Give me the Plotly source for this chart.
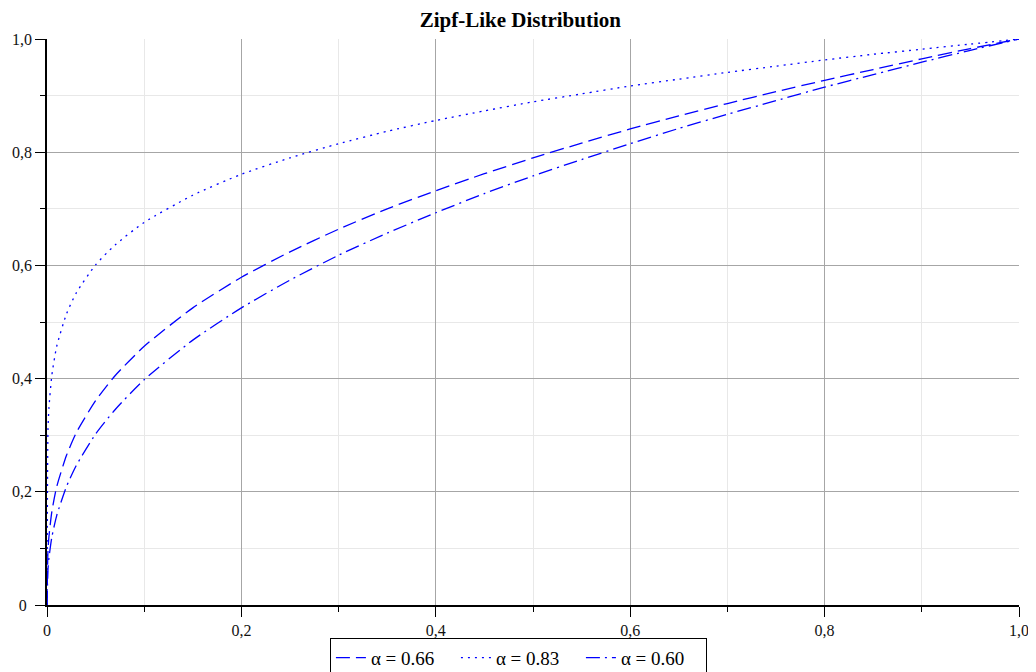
import plotly.graph_objects as go

# Fraction of objects (x) and cumulative fraction of requests (y)
x_vals = [0, 0.001, 0.002, 0.005, 0.01, 0.02, 0.03, 0.05, 0.07, 0.1, 0.15, 0.2, 0.25,
          0.3, 0.35, 0.4, 0.45, 0.5, 0.55, 0.6, 0.65, 0.7, 0.75, 0.8, 0.85, 0.9, 0.95, 1.0]

y_a066 = [0, 0.096, 0.121, 0.165, 0.209, 0.264, 0.304, 0.361, 0.405, 0.457, 0.525, 0.579, 0.624,
          0.664, 0.700, 0.732, 0.762, 0.790, 0.816, 0.841, 0.864, 0.886, 0.907, 0.927, 0.946, 0.965, 0.983, 1.0]

y_a083 = [0, 0.309, 0.348, 0.406, 0.457, 0.514, 0.551, 0.601, 0.636, 0.676, 0.724, 0.761, 0.790,
          0.815, 0.837, 0.856, 0.873, 0.889, 0.903, 0.917, 0.929, 0.941, 0.952, 0.963, 0.973, 0.982, 0.991, 1.0]

y_a060 = [0, 0.063, 0.083, 0.120, 0.158, 0.209, 0.246, 0.302, 0.345, 0.398, 0.468, 0.525, 0.574,
          0.618, 0.657, 0.693, 0.727, 0.758, 0.787, 0.815, 0.842, 0.867, 0.891, 0.915, 0.937, 0.959, 0.980, 1.0]

series_names = ["α = 0.66", "α = 0.83", "α = 0.60"]
tick_vals = [0, 0.2, 0.4, 0.6, 0.8, 1.0]
tick_text = ["0", "0,2", "0,4", "0,6", "0,8", "1,0"]

FONT = "Liberation Serif"
BLUE = "#0000ff"

fig = go.Figure()
for name, ys, dash in [
    (series_names[0], y_a066, "14px,6px"),
    (series_names[1], y_a083, "2px,5px"),
    (series_names[2], y_a060, "14px,5px,2px,5px"),
]:
    fig.add_trace(go.Scatter(x=x_vals, y=ys, mode="lines", name=name,
                             line=dict(color=BLUE, width=1.3, dash=dash, shape="spline", smoothing=0.6)))

axis_common = dict(
    range=[0, 1],
    tickvals=tick_vals,
    ticks="outside",
    ticklen=10,
    tickcolor="black",
    tickwidth=1,
    showline=True,
    linecolor="black",
    linewidth=1.5,
    showgrid=True,
    gridcolor="#a6a6a6",
    gridwidth=1,
    zeroline=False,
    tickfont=dict(family=FONT, size=16, color="#111111"),
    minor=dict(dtick=0.1, tick0=0, ticks="outside", ticklen=5, tickcolor="black",
               showgrid=True, gridcolor="#e8e8e8", gridwidth=1),
)

# page has an 8px body margin, so figure is 8px smaller and margins shifted
fig.update_layout(
    width=1028,
    height=664,
    margin=dict(l=39, r=17, t=31, b=67, autoexpand=False),
    paper_bgcolor="white",
    plot_bgcolor="white",
    title=dict(text="<b>Zipf-Like Distribution</b>", x=0.487, xref="paper", xanchor="center",
               y=0.982, yref="container", yanchor="middle",
               font=dict(family=FONT, size=21, color="black")),
    xaxis=dict(**axis_common, ticktext=tick_text),
    yaxis=dict(**axis_common, ticktext=[tick_text[0] + "\u2004"] + tick_text[1:]),
    showlegend=True,
    legend=dict(orientation="h", xref="paper", x=0.485, xanchor="center",
                yref="paper", y=-0.058, yanchor="top",
                bordercolor="black", borderwidth=1, bgcolor="white",
                font=dict(family=FONT, size=19, color="black"),
                entrywidth=80, tracegroupgap=0),
)

fig.write_html("out.html")
